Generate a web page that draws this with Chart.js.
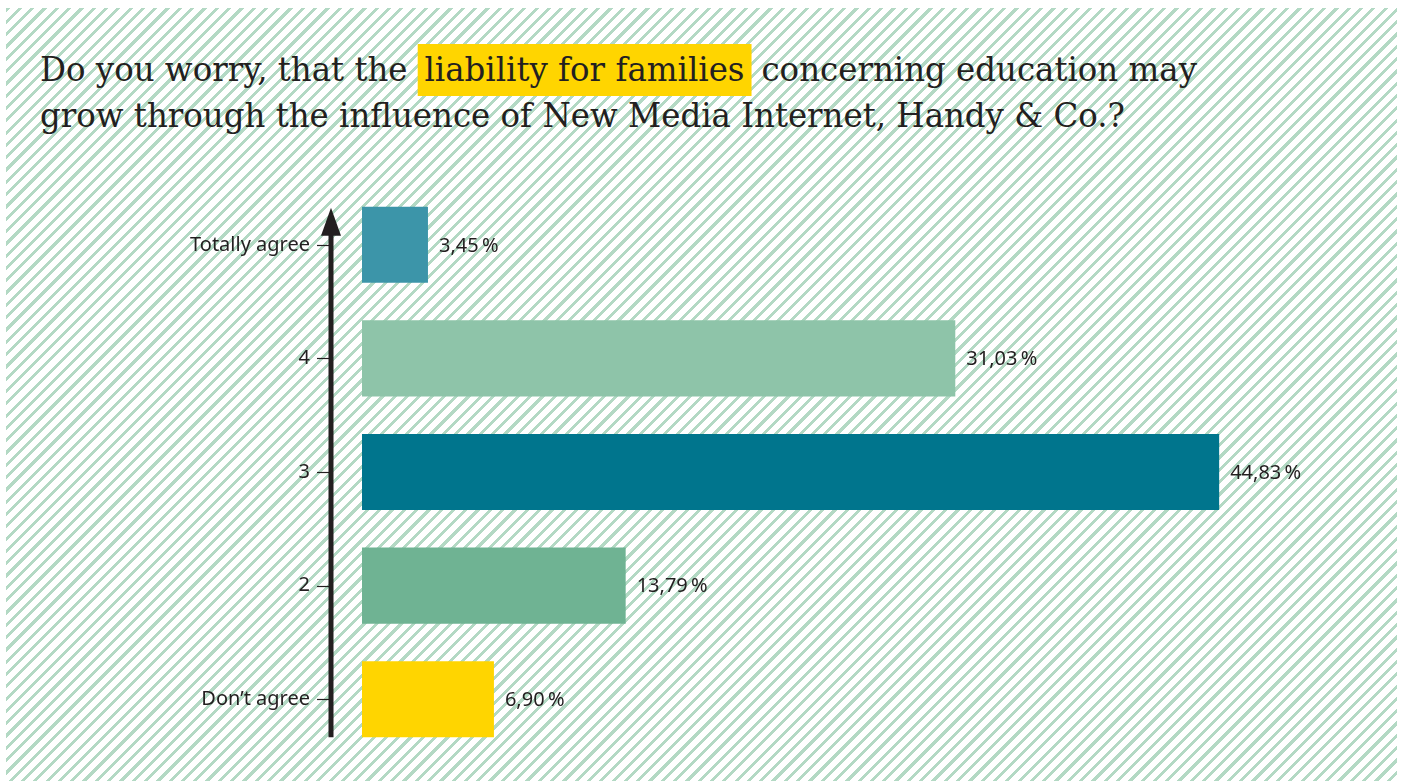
<!DOCTYPE html>
<html>
<head>
<meta charset="utf-8">
<script src="https://cdn.jsdelivr.net/npm/chart.js@4.4.1/dist/chart.umd.min.js"></script>
<style>
  html, body { margin: 0; padding: 0; background: #fff; }
  #wrap { position: relative; width: 1405px; height: 781px; overflow: hidden; }
  #stripes {
    position: absolute; left: 6px; top: 8px; width: 1391px; height: 773px;
    background: repeating-linear-gradient(135deg, #b3d9c4 0px, #b3d9c4 3px, #ffffff 3px, #ffffff 8.7px);
  }
  #title {
    position: absolute; left: 40px; top: 46px; width: 1600px;
    font-family: "DejaVu Serif", serif;
    font-size: 34px; line-height: 46px; color: #231f20; white-space: nowrap;
    transform-origin: 0 0;
  }
  #title .hl { background: #ffd500; padding: 5px 7px 7px 7px; }
  #chart { position: absolute; left: 0; top: 0; }
</style>
</head>
<body>
<div id="wrap">
  <div id="stripes"></div>
  <div id="title"><span id="l1">Do you worry, that the <span class="hl">liability for families</span> concerning education may</span><br>grow through the influence of New Media Internet, Handy &amp; Co.?</div>
  <canvas id="chart" width="1405" height="781"></canvas>
</div>
<script>
// squeeze the title horizontally so line 1 is as wide as in the reference
const l1 = document.getElementById("l1");
const title = document.getElementById("title");
const sx = 1157 / l1.getBoundingClientRect().width;
title.style.transform = "scaleX(" + sx.toFixed(4) + ")";

const categories = ["Totally agree", "4", "3", "2", "Don\u2019t agree"];
const values = [3.45, 31.03, 44.83, 13.79, 6.90];
const barColors = ["#3c95a9", "#8ec4a9", "#00758d", "#6fb393", "#ffd500"];

const ink = "#231f20";

// arrow axis + little tick dashes
const arrowAxis = {
  id: "arrowAxis",
  afterDatasetsDraw(chart) {
    const ctx = chart.ctx;
    const bars = chart.getDatasetMeta(0).data;
    const yScale = chart.scales.y;
    const x = chart.chartArea.left - 31;
    const top = bars[0].y - bars[0].height / 2 + 1;
    const bottom = bars[bars.length - 1].y + bars[bars.length - 1].height / 2;
    ctx.save();
    ctx.strokeStyle = ink;
    ctx.fillStyle = ink;
    ctx.lineWidth = 5;
    ctx.beginPath();
    ctx.moveTo(x, bottom);
    ctx.lineTo(x, top + 20);
    ctx.stroke();
    ctx.beginPath();
    ctx.moveTo(x, top);
    ctx.lineTo(x + 10, top + 28);
    ctx.lineTo(x - 10, top + 28);
    ctx.closePath();
    ctx.fill();
    ctx.lineWidth = 1.2;
    categories.forEach((c, i) => {
      const y = Math.round(yScale.getPixelForValue(i)) + 0.5;
      ctx.beginPath();
      ctx.moveTo(x - 14, y);
      ctx.lineTo(x - 2, y);
      ctx.stroke();
    });
    ctx.restore();
  }
};

const valueLabels = {
  id: "valueLabels",
  afterDatasetsDraw(chart) {
    const ctx = chart.ctx;
    ctx.save();
    ctx.font = "20px 'Noto Sans'";
    ctx.fillStyle = ink;
    ctx.textBaseline = "middle";
    chart.getDatasetMeta(0).data.forEach((bar, i) => {
      const txt = values[i].toFixed(2).replace(".", ",") + "\u2009%";
      ctx.fillText(txt, bar.x + 11, bar.y + 1);
    });
    ctx.restore();
  }
};

new Chart(document.getElementById("chart"), {
  type: "bar",
  data: {
    labels: categories,
    datasets: [{
      data: values,
      backgroundColor: barColors,
      borderWidth: 0,
      categoryPercentage: 1,
      barPercentage: 0.67
    }]
  },
  options: {
    indexAxis: "y",
    responsive: false,
    animation: false,
    layout: { padding: { top: 188, bottom: 25, right: 87, left: 0 } },
    plugins: { legend: { display: false }, tooltip: { enabled: false } },
    scales: {
      x: { display: false, min: 0, max: 50 },
      y: {
        afterFit(scale) { scale.width = 362; },
        border: { display: false },
        grid: { display: true, drawOnChartArea: false, drawTicks: true, tickLength: 52, color: "rgba(0,0,0,0)" },
        ticks: { color: ink, font: { family: "Noto Sans", size: 20 }, padding: 0 }
      }
    }
  },
  plugins: [arrowAxis, valueLabels]
});
</script>
</body>
</html>
